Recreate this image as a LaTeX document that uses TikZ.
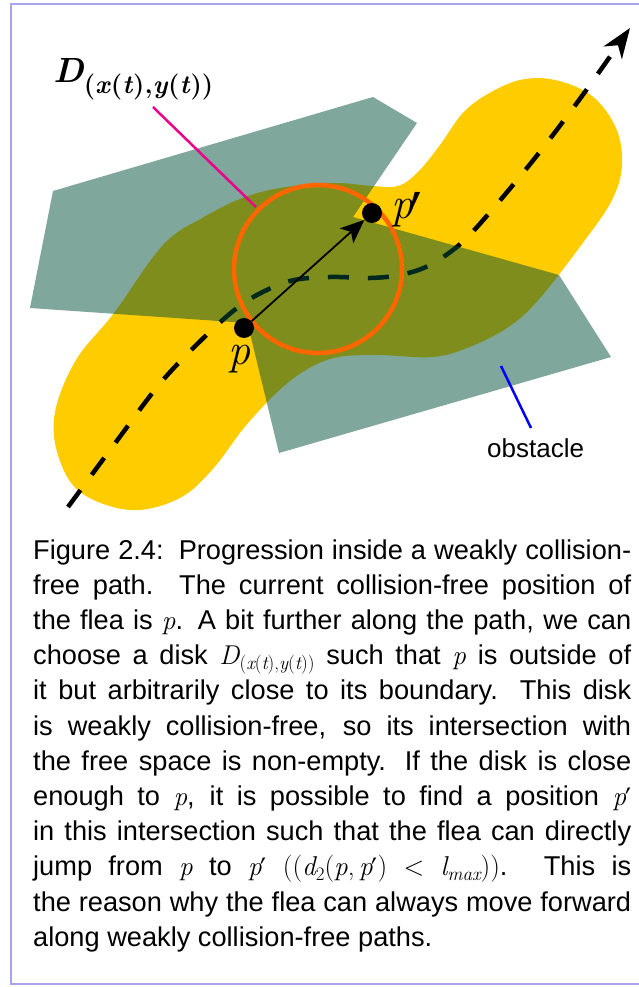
\documentclass[tikz,border=0pt]{standalone}
\usepackage{graphicx}
\usepackage{fontspec}
\newfontfamily\capsans{Liberation Sans}
\newfontfamily\primefont{DejaVu Serif}
\usetikzlibrary{arrows.meta}
\definecolor{yellowc}{RGB}{255,204,0}
\definecolor{obstc}{RGB}{0,80,56}
\definecolor{orangec}{RGB}{255,102,0}
\definecolor{magc}{RGB}{236,0,140}
\definecolor{framec}{RGB}{165,165,235}
\newcommand\mycapfont{\capsans\fontsize{27.2}{35.2}\selectfont}
\newcommand\mydfont{\fontsize{35}{40}\selectfont}
\newcommand\myplfont{\fontsize{44}{50}\selectfont}
\newcommand\myobsfont{\capsans\fontsize{26}{30}\selectfont}
\newcommand\mycapline[1]{\hbox to \hsize{#1}}
% math-like pieces set with text fonts
\newcommand\mi[1]{{\rmfamily\itshape #1}}
\newcommand\up[1]{{\rmfamily\upshape #1}}
\newcommand\csub[1]{\raisebox{-5pt}{\fontsize{19}{20}\selectfont #1}}
\newcommand\cpr{{\primefont\fontsize{24}{26}\selectfont\kern-1pt\raisebox{-7pt}{\scalebox{1.1}[1.4]{′}}}}
\newcommand\bigpr{{\primefont\fontsize{46}{50}\selectfont\kern-4pt\raisebox{-41pt}{\scalebox{1.2}[2.0]{′}}}}
\newcommand\dsub[1]{\raisebox{-11pt}{\fontsize{26}{28}\selectfont #1}}
\tikzset{
  blob/.style={fill=yellowc, draw=none},
  obst/.style={fill=obstc, fill opacity=0.5, draw=none},
  pathline/.style={line width=4.5pt, dash pattern=on 21pt off 19pt,
    -{Stealth[length=30pt,width=22pt,inset=9pt]}},
  diskcirc/.style={circle, draw=orangec, line width=4.5pt, inner sep=0pt, minimum size=168pt},
  jump/.style={line width=1.8pt, -{Stealth[length=24pt,width=20pt,inset=6pt]}},
  fleadot/.style={circle, fill=black, minimum size=20pt, inner sep=0pt},
  plabel/.style={inner sep=0pt, font=\myplfont},
  magline/.style={draw=magc, line width=2.5pt},
  blueline/.style={draw=blue, line width=2.5pt},
  framerule/.style={draw=framec, line width=2.2pt},
}
\begin{document}
\begin{tikzpicture}[x=1pt, y=-1pt]
\fill[white] (0,0) rectangle (639,987);
\useasboundingbox (0,0) rectangle (639,987);

% free-space blob
\fill[blob] plot[smooth cycle, tension=0.6] coordinates {
 (55,412) (58,455) (80,492) (130,510) (178,499) (212,470)
 (248,423) (290,381) (330,359) (375,355) (433,357)
 (472,346) (510,326) (540,298) (585,240) (612,200) (622,165)
 (616,128) (592,96) (555,80) (520,80) (486,95) (462,114) (440,145)
 (418,172) (398,186) (372,186) (335,183) (286,187) (245,197) (204,217) (163,245)
 (114,313) (76,360)};

% weakly collision-free path
\draw[pathline] plot[smooth, tension=0.55] coordinates {
 (68,507) (116,442) (163,380) (215,327) (250,299) (290,281) (330,277) (370,278)
 (400,275) (428,266) (458,246) (485,218) (535,158) (582,96) (630,28)};

% obstacle
\fill[obst] (53,191) -- (373,97) -- (417,123) -- (353,217) -- (559,275)
  -- (611,357) -- (279,453) -- (247.5,323) -- (30,308) -- cycle;

% disk
\node[diskcirc] (disk) at (318,269) {};

% labels and leader lines
\node[anchor=base west, inner sep=0pt, font=\mydfont] (dlab) at (53,83)
  {{\bfseries\itshape D}\dsub{\bfseries(\textit{x}(\textit{t}),\textit{y}(\textit{t}))}};
\coordinate (m1) at (153,107);
\coordinate (m2) at (256,207);
\draw[magline] (m1) -- (m2);

\node[anchor=base west, inner sep=0pt, font=\myobsfont] (obs) at (487,457) {obstacle};
\coordinate (b1) at (501,366);
\coordinate (b2) at (531,428);
\draw[blueline] (b1) -- (b2);

% positions of the flea
\node[fleadot] (p) at (244,328) {};
\node[fleadot] (pp) at (372,213) {};
\draw[jump] (p) -- (pp);
\node[plabel, anchor=base] (plab) at (239,364.5) {\itshape p};
\node[plabel, anchor=base west] (pplab) at (391,218) {{\itshape p}\bigpr};

% caption
\node[anchor=base west, inner sep=0pt, font=\mycapfont] (caption) at (33,559) {\vtop{\hsize=598pt
\mycapline{Figure 2.4:\hspace{0.15em} Progression inside a weakly collision-}
\mycapline{free path. The current collision-free position of}
\mycapline{the flea is \mi{p}. A bit further along the path, we can}
\mycapline{choose a disk \mi{D}\csub{\up{(}\mi{x}\up{(}\mi{t}\up{),}\mi{y}\up{(}\mi{t}\up{))}} such that \mi{p} is outside of}
\mycapline{it but arbitrarily close to its boundary. This disk}
\mycapline{is weakly collision-free, so its intersection with}
\mycapline{the free space is non-empty. If the disk is close}
\mycapline{enough to \mi{p}, it is possible to find a position \mi{p}\cpr}
\mycapline{in this intersection such that the flea can directly}
\mycapline{jump from \mi{p} to \mi{p}\cpr\ \up{((}\mi{d}\csub{\up{2}}\up{(}\mi{p}\up{,}\,\mi{p}\cpr\up{)} \up{<} \mi{l}\csub{\mi{max}}\up{))}. This is}
\mycapline{the reason why the flea can always move forward}
\hbox{along weakly collision-free paths.}}};

% frame
\draw[framerule] (641,4) -- (10.7,4) -- (10.7,984.3) -- (641,984.3);
\end{tikzpicture}
\end{document}
